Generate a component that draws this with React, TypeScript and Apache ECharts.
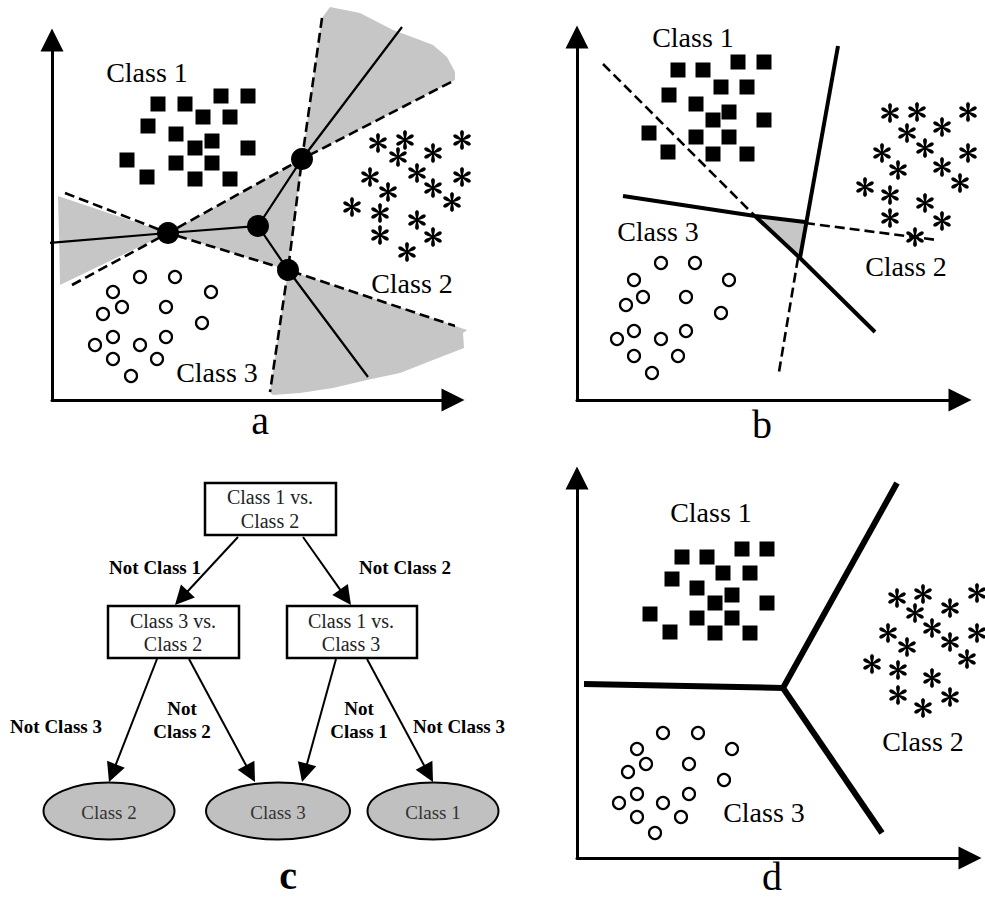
import React, { useEffect, useRef } from "react";
import * as echarts from "echarts";

// ---------------- Panel a (units: 4 px each, origin at axis corner) ----------------
const aSquares = [
  [26.5, 74], [33.25, 74], [42.25, 76], [49, 76], [24, 68.5], [37.75, 70.75], [44.5, 70.75],
  [31, 66.5], [40, 64.75], [35.75, 63], [49, 63], [18.75, 60], [31, 59.25], [40, 59.25],
  [23.75, 55.75], [35.75, 55.25], [44.5, 55.25],
];
const aStars = [
  [81.5, 64.25], [88.25, 65], [102.5, 65], [86.5, 60.75], [95.25, 61.75], [79.5, 55.75],
  [91.25, 56.75], [102.5, 55.75], [84, 52], [95.25, 53], [100, 49.5], [75, 48.25], [82, 46.75],
  [91.25, 45], [82, 41.25], [95.25, 40.75], [88.75, 37],
];
const aCircles = [
  [22, 30.75], [30.75, 30.75], [15.25, 27], [39.75, 27], [17.5, 23.25], [28.5, 23.25],
  [12.75, 21.5], [37.5, 19.25], [15.25, 15.75], [28.5, 15.75], [10.75, 13.75], [22, 13.75],
  [15.25, 10.25], [26.25, 10.25], [19.75, 6],
];
const aDots = [[29, 41.75], [51.5, 43.5], [62.5, 60.25], [59, 32.5]];
const aSolid1 = [[-1, 39.25], [29, 41.75], [51.5, 43.5]];
const aSolid2 = [[51.5, 43.5], [62.5, 60.25], [87.5, 93.25]];
const aSolid3 = [[51.5, 43.5], [59, 32.5], [79, 5.75]];
const aDash1 = [[3.25, 51.75], [29, 41.75], [59, 32.5], [103.75, 17.5]];
const aDash2 = [[5, 28.75], [29, 41.75], [62.5, 60.25], [100.75, 80]];
const aDash3 = [[67.5, 95.5], [62.5, 60.25], [59, 32.5], [54.5, 2]];
const aShadeLeft = [[1.5, 51], [29, 41.75], [2, 28.75], [1.8, 40]];
const aShadeCenter = [[29, 41.75], [62.5, 60.25], [59, 32.5]];
const aShadeTop = [
  [62.5, 60.25], [67.5, 95.5], [69.5, 98.25], [77, 96.75], [85.25, 92.5], [92, 90],
  [95.25, 88.75], [98.75, 85.75], [100.75, 82], [100.75, 80],
];
const aShadeBottom = [
  [59, 32.5], [103.75, 17.5], [102.75, 16.75], [103, 13], [95.25, 10], [87, 6.75],
  [78.75, 5], [70.25, 3], [62, 1.75], [55.25, 1.25], [54.5, 2],
];

// ---------------- Panel b ----------------
const bSquares = [
  [25.25, 82.5], [31.5, 82.5], [40.25, 84.5], [46.75, 84.5], [23, 76.25], [36, 78.25],
  [42.5, 78.25], [29.75, 74], [38, 72], [34, 70], [46.75, 70], [18, 66.75], [29.75, 65.75],
  [38, 65.75], [22.75, 62], [34, 61.5], [42.5, 61.5],
];
const bStars = [
  [78.25, 71.75], [85, 72], [97.75, 72], [82.5, 66.75], [91.25, 68.25], [76.25, 61.75],
  [87, 63], [97.75, 61.75], [80.25, 57.5], [91.25, 58.25], [95.75, 54.25], [72, 53.25],
  [78.25, 51.25], [87, 49.25], [78.25, 45.5], [91.25, 44.75], [84.5, 40.75],
];
const bCircles = [
  [21, 34.25], [29.5, 34.25], [14.25, 30], [38, 30], [16.5, 25.75], [27.25, 25.75],
  [12.25, 23.75], [36, 21.75], [14.25, 17.25], [27.25, 17.25], [10, 15.25], [21, 15.25],
  [14.25, 11], [25.25, 11], [18.75, 6.75],
];
const bShade = [[44.5, 46], [57, 44.5], [55.75, 35.5]];
const bSolid1 = [[11.5, 51], [44.5, 46], [57, 44.5]];
const bSolid2 = [[65.25, 88.5], [55.75, 35.5]];
const bSolid3 = [[44.5, 46], [55.75, 35.5], [74.5, 17]];
const bDash1 = [[6.5, 84], [44.5, 46]];
const bDash2 = [[57, 44.25], [90, 40]];
const bDash3 = [[55.25, 35.5], [50.5, 7]];

// ---------------- Panel d ----------------
const dSquares = [
  [26.25, 75.25], [32.5, 75.25], [41.25, 77.25], [47.5, 77.25], [23.75, 69.75], [36.5, 71.25],
  [43.25, 71.25], [30, 67.5], [38.75, 65.75], [34.5, 63.75], [47.5, 63.75], [18.25, 61],
  [30, 60], [38.75, 60], [23.25, 56.5], [34.5, 56.25], [43.25, 56.25],
];
const dStars = [
  [80, 65], [86.5, 66], [100, 66.25], [84.5, 61.25], [93.25, 62.5], [77.75, 56.25],
  [88.75, 57.5], [100, 56.25], [82.5, 52.75], [93.25, 54], [97.5, 49.75], [73.75, 48.5],
  [80.25, 47], [88.75, 45], [80.25, 40.75], [93.25, 40.25], [86.5, 37.5],
];
const dCircles = [
  [21.5, 31.25], [30.25, 31.25], [15, 27.25], [38.75, 27.25], [17.25, 23.5], [28, 23.5],
  [12.75, 21.5], [36.75, 19.5], [15, 16], [28, 16], [10.5, 13.75], [21.5, 13.75],
  [15, 10.25], [26, 10.25], [19.5, 6.25],
];
const dLine1 = [[1.75, 43.5], [51.5, 42.5], [80, 93.75]];
const dLine2 = [[51.5, 42.5], [76.25, 6.25]];

// ---------------- Panel c (tree) texts ----------------
const classNames = ["Class 1", "Class 2", "Class 3"];
const treeRoot = ["Class 1 vs.", "Class 2"];
const treeLeft = ["Class 3 vs.", "Class 2"];
const treeRight = ["Class 1 vs.", "Class 3"];
const leafLabels = ["Class 2", "Class 3", "Class 1"];
const edgeLabels = ["Not Class 1", "Not Class 2", "Not Class 3", "Not\nClass 2", "Not\nClass 1", "Not Class 3"];
const panelLetters = ["a", "b", "c", "d"];

const FONT = '"Liberation Serif", "Times New Roman", serif';

function buildAsterisk(): string {
  const arm = [[-3, 0], [-8.5, -27], [-9.5, -36], [-7.5, -44.5], [0, -49], [7.5, -44.5], [9.5, -36], [8.5, -27], [3, 0]];
  let d = "";
  for (let k = 0; k < 6; k++) {
    const a = (k * Math.PI) / 3;
    const c = Math.cos(a);
    const s = Math.sin(a);
    arm.forEach(([x, y], i) => {
      const X = 50 + x * c - y * s;
      const Y = 50 + x * s + y * c;
      d += (i === 0 ? "M" : "L") + X.toFixed(2) + " " + Y.toFixed(2) + " ";
    });
    d += "Z ";
  }
  return "path://" + d;
}
const ASTERISK = buildAsterisk();

function txt(x: number, y: number, text: string, size: number, bold = false, fill = "#000", lineHeight?: number): any {
  return {
    type: "text",
    x,
    y,
    silent: true,
    z: 50,
    style: {
      text,
      font: `${bold ? "bold " : ""}${size}px ${FONT}`,
      fill,
      align: "center",
      verticalAlign: "middle",
      textAlign: "center",
      textVerticalAlign: "middle",
      lineHeight: lineHeight || size * 1.2,
    },
  };
}

function arrow(x1: number, y1: number, x2: number, y2: number): any[] {
  const len = 19;
  const hw = 9.5;
  const dx = x2 - x1;
  const dy = y2 - y1;
  const L = Math.hypot(dx, dy);
  const ux = dx / L;
  const uy = dy / L;
  const bx = x2 - ux * len;
  const by = y2 - uy * len;
  return [
    { type: "line", silent: true, z: 40, shape: { x1, y1, x2: bx + ux * 2, y2: by + uy * 2 }, style: { stroke: "#000", lineWidth: 2 } },
    {
      type: "polygon",
      silent: true,
      z: 41,
      shape: { points: [[x2, y2], [bx - uy * hw, by + ux * hw], [bx + uy * hw, by - ux * hw]] },
      style: { fill: "#000" },
    },
  ];
}

export default function App() {
  const ref = useRef<HTMLDivElement>(null);
  useEffect(() => {
    if (!ref.current) return;
    const chart = echarts.init(ref.current, undefined, { renderer: "svg" });

    const grids = [
      { left: 52, top: 40, width: 401, height: 360 },
      { left: 577, top: 37, width: 383, height: 363 },
      { left: 577, top: 478, width: 393, height: 380 },
    ];
    const xMax = [100.25, 95.75, 98.25];
    const yMax = [90, 90.75, 95];

    const axis = (gi: number, max: number) => ({
      type: "value",
      gridIndex: gi,
      min: 0,
      max,
      axisLine: {
        show: true,
        onZero: false,
        symbol: ["none", "triangle"],
        symbolSize: [23, 23],
        lineStyle: { color: "#000", width: 3 },
      },
      axisTick: { show: false },
      axisLabel: { show: false },
      splitLine: { show: false },
    });

    const lineS = (gi: number, data: number[][], width: number, dashed: boolean) => ({
      type: "line",
      xAxisIndex: gi,
      yAxisIndex: gi,
      data,
      symbol: "none",
      clip: false,
      silent: true,
      z: dashed ? 3 : 4,
      lineStyle: { color: "#000", width, opacity: 1, type: dashed ? [10, 5] : "solid", cap: "butt", join: "miter" },
    });

    const shadeS = (gi: number, poly: number[][]) => ({
      type: "custom",
      xAxisIndex: gi,
      yAxisIndex: gi,
      data: poly,
      silent: true,
      clip: false,
      z: 1,
      renderItem: (params: any, api: any) =>
        params.dataIndex === 0
          ? { type: "polygon", shape: { points: poly.map((p) => api.coord(p)) }, style: { fill: "#c6c6c6" } }
          : null,
    });

    const squares = (gi: number, data: number[][]) => ({
      type: "scatter", xAxisIndex: gi, yAxisIndex: gi, data, symbol: "rect", symbolSize: 15,
      clip: false, silent: true, z: 5, itemStyle: { color: "#000", opacity: 1 },
    });
    const stars = (gi: number, data: number[][]) => ({
      type: "scatter", xAxisIndex: gi, yAxisIndex: gi, data, symbol: ASTERISK, symbolSize: 20,
      symbolKeepAspect: true, clip: false, silent: true, z: 5, itemStyle: { color: "#000", opacity: 1 },
    });
    const circles = (gi: number, data: number[][]) => ({
      type: "scatter", xAxisIndex: gi, yAxisIndex: gi, data, symbol: "circle", symbolSize: 12,
      clip: false, silent: true, z: 5, itemStyle: { color: "#fff", borderColor: "#000", borderWidth: 2.2, opacity: 1 },
    });

    const series: any[] = [
      // panel a
      shadeS(0, aShadeLeft),
      shadeS(0, aShadeCenter),
      shadeS(0, aShadeTop),
      shadeS(0, aShadeBottom),
      lineS(0, aDash1, 2.6, true),
      lineS(0, aDash2, 2.6, true),
      lineS(0, aDash3, 2.6, true),
      lineS(0, aSolid1, 2.2, false),
      lineS(0, aSolid2, 2.2, false),
      lineS(0, aSolid3, 2.2, false),
      {
        type: "scatter", xAxisIndex: 0, yAxisIndex: 0, data: aDots, symbol: "circle", symbolSize: 22,
        clip: false, silent: true, z: 6, itemStyle: { color: "#000", opacity: 1 },
      },
      squares(0, aSquares),
      stars(0, aStars),
      circles(0, aCircles),
      // panel b
      shadeS(1, bShade),
      lineS(1, bDash1, 2.6, true),
      lineS(1, bDash2, 2.6, true),
      lineS(1, bDash3, 2.6, true),
      lineS(1, bSolid1, 4, false),
      lineS(1, bSolid2, 4, false),
      lineS(1, bSolid3, 4, false),
      squares(1, bSquares),
      stars(1, bStars),
      circles(1, bCircles),
      // panel d
      lineS(2, dLine1, 6, false),
      lineS(2, dLine2, 6, false),
      squares(2, dSquares),
      stars(2, dStars),
      circles(2, dCircles),
    ];

    // tree (panel c)
    const boxStyle = { fill: "#fff", stroke: "#000", lineWidth: 2.5 };
    const ellStyle = { fill: "#c0c0c0", stroke: "#000", lineWidth: 2 };
    const graphic: any[] = [
      { type: "rect", silent: true, z: 30, shape: { x: 205, y: 483, width: 131, height: 52 }, style: boxStyle },
      { type: "rect", silent: true, z: 30, shape: { x: 108, y: 606, width: 131, height: 52 }, style: boxStyle },
      { type: "rect", silent: true, z: 30, shape: { x: 287, y: 606, width: 130, height: 52 }, style: boxStyle },
      { type: "ellipse", silent: true, z: 30, shape: { cx: 109, cy: 811, rx: 65.5, ry: 28.5 }, style: ellStyle },
      { type: "ellipse", silent: true, z: 30, shape: { cx: 278, cy: 811, rx: 72, ry: 28.5 }, style: ellStyle },
      { type: "ellipse", silent: true, z: 30, shape: { cx: 433, cy: 811, rx: 65.5, ry: 28.5 }, style: ellStyle },
      ...arrow(238, 537, 175, 605),
      ...arrow(303, 537, 351, 605),
      ...arrow(157, 659, 109, 782),
      ...arrow(189, 659, 255, 782),
      ...arrow(336, 659, 302, 782),
      ...arrow(367, 659, 433, 782),
      txt(270, 497, treeRoot[0], 20, false, "#222"),
      txt(270, 521, treeRoot[1], 20, false, "#222"),
      txt(173, 621, treeLeft[0], 20, false, "#222"),
      txt(173, 644, treeLeft[1], 20, false, "#222"),
      txt(351, 621, treeRight[0], 20, false, "#222"),
      txt(351, 644, treeRight[1], 20, false, "#222"),
      txt(109, 812, leafLabels[0], 19, false, "#333"),
      txt(278, 812, leafLabels[1], 19, false, "#333"),
      txt(433, 812, leafLabels[2], 19, false, "#333"),
      txt(155, 567, edgeLabels[0], 19, true),
      txt(405, 567, edgeLabels[1], 19, true),
      txt(56, 726, edgeLabels[2], 19, true),
      txt(182, 720, edgeLabels[3], 19, true, "#000", 23),
      txt(359, 720, edgeLabels[4], 19, true, "#000", 23),
      txt(459, 726, edgeLabels[5], 19, true),
      // class labels in scatter panels
      txt(147, 72, classNames[0], 28),
      txt(412, 283, classNames[1], 28),
      txt(217, 372, classNames[2], 28),
      txt(693, 37, classNames[0], 28),
      txt(906, 266, classNames[1], 28),
      txt(658, 231, classNames[2], 28),
      txt(711, 512, classNames[0], 28),
      txt(923, 741, classNames[1], 28),
      txt(764, 812, classNames[2], 28),
      // panel letters
      txt(260, 420, panelLetters[0], 40, false, "#000", 32),
      txt(762, 424, panelLetters[1], 40, false, "#000", 32),
      txt(288, 875, panelLetters[2], 40, true, "#000", 32),
      txt(772, 876, panelLetters[3], 40, false, "#000", 32),
    ];

    chart.setOption({
      animation: false,
      backgroundColor: "#fff",
      grid: grids,
      xAxis: [axis(0, xMax[0]), axis(1, xMax[1]), axis(2, xMax[2])],
      yAxis: [axis(0, yMax[0]), axis(1, yMax[1]), axis(2, yMax[2])],
      series,
      graphic,
    });
    return () => chart.dispose();
  }, []);
  return <div ref={ref} style={{ position: "fixed", left: 0, top: 0, width: 985, height: 899, background: "#fff" }} />;
}
